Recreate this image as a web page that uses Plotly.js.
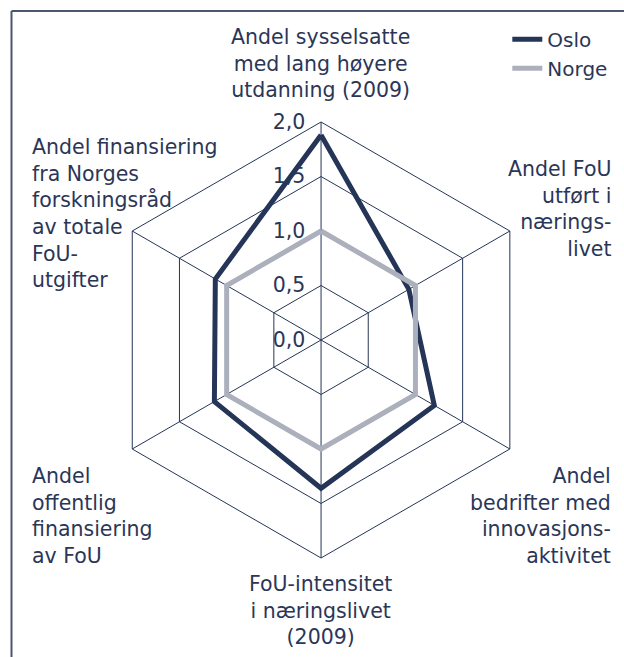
<!DOCTYPE html>
<html>
<head>
<meta charset="utf-8">
<script src="https://cdn.plot.ly/plotly-3.0.1.min.js"></script>
<style>
  body { margin: 0; background: #fff; }
  #myDiv { width: 624px; height: 657px; }
</style>
</head>
<body>
<div id="myDiv"></div>
<script>
var categories = [
  'Andel sysselsatte<br>med lang høyere<br>utdanning (2009)',
  'Andel FoU<br>utført i<br>nærings-<br>livet',
  'Andel<br>bedrifter med<br>innovasjons-<br>aktivitet',
  'FoU-intensitet<br>i næringslivet<br>(2009)',
  'Andel<br>offentlig<br>finansiering<br>av FoU',
  'Andel finansiering<br>fra Norges<br>forskningsråd<br>av totale<br>FoU-<br>utgifter'
];
var oslo = [1.88, 0.93, 1.2, 1.36, 1.13, 1.12];
var norge = [1, 1, 1, 1, 1, 1];
var radialTicks = [0, 0.5, 1, 1.5, 2];

var navy = '#253558';
var txt = '#2b3657';

// close the polygons by repeating the first point
function closed(arr) { return arr.concat([arr[0]]); }

var data = [{
  type: 'scatterpolar',
  r: closed(oslo),
  theta: closed(categories),
  mode: 'lines',
  name: 'Oslo',
  line: {color: navy, width: 5}
},
{
  type: 'scatterpolar',
  r: closed(norge),
  theta: closed(categories),
  mode: 'lines',
  name: 'Norge',
  line: {color: '#abb0bc', width: 5}
}];

// label boxes placed like the text boxes in the original
var labelPos = [
  {x: 0.513, y: 0.842, xanchor: 'center', yanchor: 'bottom', align: 'center'},
  {x: 0.982, y: 0.764, xanchor: 'right', yanchor: 'top', align: 'right'},
  {x: 0.982, y: 0.297, xanchor: 'right', yanchor: 'top', align: 'right'},
  {x: 0.513, y: 0.132, xanchor: 'center', yanchor: 'top', align: 'center'},
  {x: 0.048, y: 0.297, xanchor: 'left', yanchor: 'top', align: 'left'},
  {x: 0.048, y: 0.798, xanchor: 'left', yanchor: 'top', align: 'left'}
];

var annotations = categories.map(function(c, i) {
  var p = labelPos[i];
  return {
    xref: 'paper', yref: 'paper',
    x: p.x, y: p.y, xanchor: p.xanchor, yanchor: p.yanchor, align: p.align,
    text: c, showarrow: false,
    font: {family: 'DejaVu Sans', size: 20.5, color: txt}
  };
});

var layout = {
  width: 624,
  height: 657,
  margin: {l: 0, r: 0, t: 0, b: 0},
  paper_bgcolor: '#fff',
  separators: ', ',
  font: {family: 'DejaVu Sans', size: 20, color: txt},
  showlegend: true,
  legend: {
    x: 0.813, y: 0.97, xanchor: 'left', yanchor: 'top',
    font: {family: 'DejaVu Sans', size: 20, color: txt},
    bgcolor: 'rgba(0,0,0,0)',
    tracegroupgap: 0
  },
  polar: {
    domain: {x: [0.165, 0.864], y: [0.1507, 0.8143]},
    gridshape: 'linear',
    bgcolor: '#fff',
    radialaxis: {
      range: [0, 2],
      tickvals: radialTicks,
      tickformat: '.1f',
      angle: 90,
      tickangle: 90,
      side: 'counterclockwise',
      showline: false,
      ticks: 'outside',
      ticklen: 8,
      tickcolor: 'rgba(0,0,0,0)',
      gridcolor: navy,
      gridwidth: 1,
      tickfont: {family: 'DejaVu Sans', size: 20.5, color: txt}
    },
    angularaxis: {
      direction: 'clockwise',
      rotation: 90,
      showticklabels: false,
      ticks: '',
      showline: true,
      linecolor: navy,
      linewidth: 1,
      gridcolor: navy,
      gridwidth: 1
    }
  },
  annotations: annotations,
  shapes: [
    {type: 'line', xref: 'paper', yref: 'paper', x0: 11.5 / 624, x1: 11.5 / 624, y0: 1 - 11 / 657, y1: -0.1,
     line: {color: '#4d5573', width: 2}},
    {type: 'line', xref: 'paper', yref: 'paper', x0: 11.5 / 624, x1: 1.1, y0: 1 - 11 / 657, y1: 1 - 11 / 657,
     line: {color: '#4d5573', width: 2}}
  ]
};

Plotly.newPlot('myDiv', data, layout, {displayModeBar: false});
</script>
</body>
</html>
